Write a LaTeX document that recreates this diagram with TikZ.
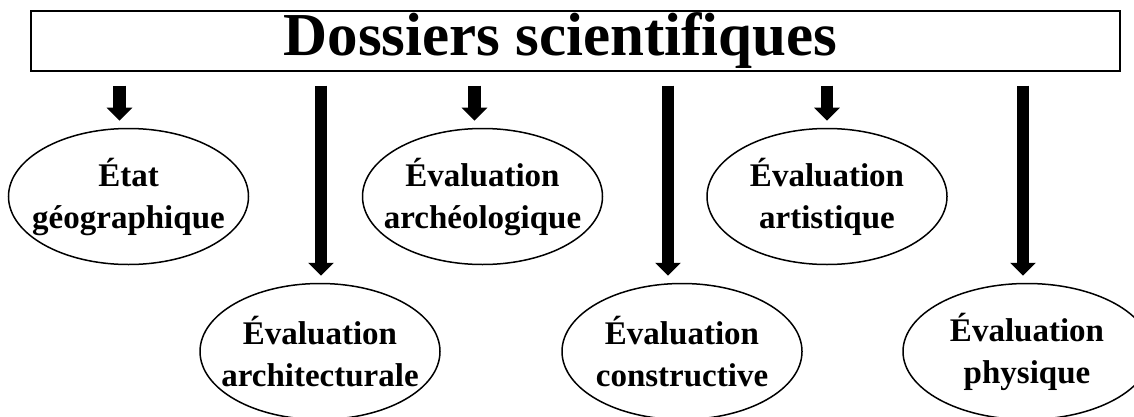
\documentclass[tikz,border=0pt]{standalone}
\usepackage{fontspec}
\setmainfont{Liberation Serif}
\usetikzlibrary{shapes,arrows.meta,positioning,calc}

\begin{document}
\begin{tikzpicture}[x=1pt,y=-1pt,
  header/.style={rectangle,draw=black,line width=1.5pt,
                 minimum width=1089pt,minimum height=60pt,inner sep=0pt,
                 font=\fontsize{61}{61}\selectfont\bfseries},
  dossier/.style={ellipse,draw=black,line width=1.5pt,
                  minimum width=240pt,minimum height=136pt,inner xsep=-20pt,inner ysep=0pt,
                  align=center,font=\fontsize{33}{42}\selectfont\bfseries},
  blockarrow/.style={-{Triangle[length=13pt,width=25pt]},line width=12.5pt,black,
                     shorten <=14pt,shorten >=7pt}
]

% fixed frame of the figure
\path[use as bounding box,clip] (0,0) rectangle (1134,417);

% ===== TITLE =====
\node[header] (title) at (575.5,41) {Dossiers scientifiques\kern30pt};

% ===== UPPER ROW =====
\node[dossier,below=56pt of title,xshift=-447pt] (geo) {État\\géographique};
\node[dossier,below=56pt of title,xshift=-93pt] (archeo) {Évaluation\\archéologique};
\node[dossier,below=56pt of title,xshift=+251.5pt] (arti) {Évaluation\\artistique};

% ===== LOWER ROW =====
\node[dossier,below=211pt of title,xshift=-255.5pt] (archi) {Évaluation\\architecturale};
\node[dossier,below=211pt of title,xshift=+106.5pt] (constr) {Évaluation\\constructive};
\node[dossier,minimum width=248pt,below=211pt of title,xshift=+451.5pt] (phys) {Évaluation\\physique};

% ===== ARROWS =====
\foreach \n/\dx in {geo/-9pt,archi/1pt,archeo/-8pt,constr/-14pt,arti/0pt,phys/-4pt} {
  \draw[blockarrow] ($(title.south -| \n.north)+(\dx,0)$) -- ($(\n.north)+(\dx,0)$);
}

\end{tikzpicture}
\end{document}
